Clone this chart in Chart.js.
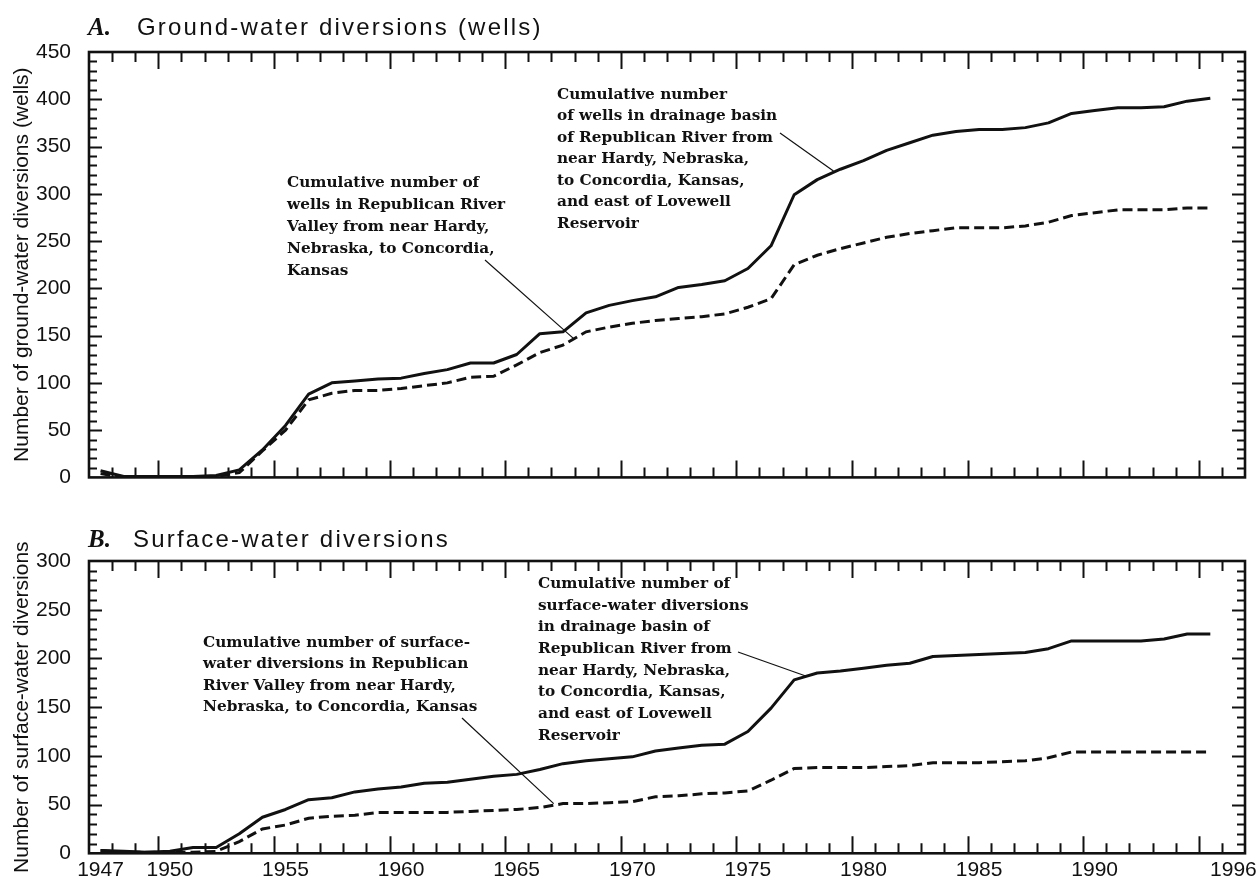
<!DOCTYPE html>
<html>
<head>
<meta charset="utf-8">
<script src="https://cdn.jsdelivr.net/npm/chart.js@4.4.1/dist/chart.umd.min.js"></script>
<style>
  html, body { margin: 0; padding: 0; background: #fff; }
  #wrap { position: relative; width: 1260px; height: 879px; overflow: hidden; background: #fff; }
  canvas { position: absolute; left: 0; }
</style>
</head>
<body>
<div id="wrap">
  <canvas id="panelA" width="1260" height="500" style="top:0"></canvas>
  <canvas id="panelB" width="1260" height="379" style="top:500px"></canvas>
</div>
<script>
// Years of record (each value is plotted at the middle of its year)
const years = [1947,1948,1949,1950,1951,1952,1953,1954,1955,1956,1957,1958,1959,1960,
  1961,1962,1963,1964,1965,1966,1967,1968,1969,1970,1971,1972,1973,1974,1975,1976,
  1977,1978,1979,1980,1981,1982,1983,1984,1985,1986,1987,1988,1989,1990,1991,1992,
  1993,1994,1995];

// A. Cumulative wells, drainage basin (solid) and river valley (dashed)
const wellsBasin = [7,1,1,1,1,2,8,29,55,88,100,102,104,105,110,114,121,121,130,152,
  154,174,182,187,191,201,204,208,221,245,299,315,326,335,346,354,362,366,368,368,
  370,375,385,388,391,391,392,398,401];
const wellsValley = [4,0,0,0,0,1,5,28,50,82,89,92,92,94,97,100,106,107,119,132,
  140,154,159,163,166,168,170,173,180,189,225,235,242,248,254,258,261,264,264,264,
  266,270,277,280,283,283,283,285,285];

// B. Cumulative surface-water diversions, drainage basin (solid) and river valley (dashed)
const surfaceBasin = [3,2,1,2,6,6,20,37,45,55,57,63,66,68,72,73,76,79,81,86,
  92,95,97,99,105,108,111,112,125,149,178,185,187,190,193,195,202,203,204,205,
  206,210,218,218,218,218,220,225,225];
const surfaceValley = [3,1,1,1,1,2,12,25,29,36,38,39,42,42,42,42,43,44,45,47,
  51,51,52,53,58,59,61,62,64,75,87,88,88,88,89,90,93,93,93,94,
  95,98,104,104,104,104,104,104,104];

// Axis labels
const xLabelYears = [1947,1950,1955,1960,1965,1970,1975,1980,1985,1990,1996];
const yTitleA = 'Number of ground-water diversions (wells)';
const yTitleB = 'Number of surface-water diversions';
const headingA = ['A.', 'Ground-water diversions (wells)'];
const headingB = ['B.', 'Surface-water diversions'];

// Callout text
const noteValleyWells = ['Cumulative number of', 'wells in Republican River',
  'Valley from near Hardy,', 'Nebraska, to Concordia,', 'Kansas'];
const noteBasinWells = ['Cumulative number', 'of wells in drainage basin',
  'of Republican River from', 'near Hardy, Nebraska,', 'to Concordia, Kansas,',
  'and east of Lovewell', 'Reservoir'];
const noteValleySurface = ['Cumulative number of surface-', 'water diversions in Republican',
  'River Valley from near Hardy,', 'Nebraska, to Concordia, Kansas'];
const noteBasinSurface = ['Cumulative number of', 'surface-water diversions',
  'in drainage basin of', 'Republican River from', 'near Hardy, Nebraska,',
  'to Concordia, Kansas,', 'and east of Lovewell', 'Reservoir'];

const INK = '#111';
const NOTE_FONT = 'bold 15.3px "DejaVu Serif"';
const SANS = '"Liberation Sans", Arial, sans-serif';

function toPoints(vals) {
  return vals.map((v, i) => ({ x: years[i] + 0.5, y: v }));
}

// Frame with inward tick marks on all four sides
const frameTicks = {
  id: 'frameTicks',
  afterDatasetsDraw(chart) {
    const { ctx, chartArea: a } = chart;
    const { x, y } = chart.scales;
    ctx.save();
    ctx.strokeStyle = INK;
    ctx.lineWidth = 2;
    ctx.beginPath();
    for (let yr = x.min + 1; yr < x.max; yr++) {
      const px = Math.round(x.getPixelForValue(yr)) + 0.5;
      const len = yr % 5 === 0 ? 17 : 10;
      ctx.moveTo(px, a.top); ctx.lineTo(px, a.top + len);
      ctx.moveTo(px, a.bottom); ctx.lineTo(px, a.bottom - len);
    }
    for (let v = y.min + 10; v < y.max; v += 10) {
      const py = Math.round(y.getPixelForValue(v)) + 0.5;
      const len = v % 50 === 0 ? 13 : 8;
      ctx.moveTo(a.left, py); ctx.lineTo(a.left + len, py);
      ctx.moveTo(a.right, py); ctx.lineTo(a.right - len, py);
    }
    ctx.stroke();
    ctx.lineWidth = 2.6;
    ctx.strokeRect(a.left, a.top, a.right - a.left, a.bottom - a.top);
    ctx.restore();
  }
};

// Heading and callouts with leader lines that end on the curves
function makeAnnotations(heading, headX, headY, notes) {
  return {
    id: 'annotations',
    afterDraw(chart) {
      const { ctx } = chart;
      const { x, y } = chart.scales;
      ctx.save();
      ctx.fillStyle = INK;
      ctx.textBaseline = 'alphabetic';
      ctx.textAlign = 'left';
      ctx.font = 'italic bold 25px "Liberation Serif"';
      ctx.fillText(heading[0], 88, headY);
      ctx.font = '24px ' + SANS;
      ctx.letterSpacing = '2.2px';
      ctx.fillText(heading[1], headX, headY);
      ctx.letterSpacing = '0px';

      ctx.font = NOTE_FONT;
      ctx.textBaseline = 'middle';
      notes.forEach(n => {
        n.lines.forEach((t, i) => ctx.fillText(t, n.x, n.y + i * n.lh));
        ctx.beginPath();
        ctx.strokeStyle = INK;
        ctx.lineWidth = 1.2;
        ctx.moveTo(n.from[0], n.from[1]);
        ctx.lineTo(x.getPixelForValue(n.to[0]), y.getPixelForValue(n.to[1]));
        ctx.stroke();
      });
      ctx.restore();
    }
  };
}

function panelConfig(opts) {
  return {
    type: 'line',
    data: {
      datasets: [
        { data: toPoints(opts.solid), borderColor: INK, borderWidth: 3, pointRadius: 0,
          tension: 0, fill: false, borderJoinStyle: 'round' },
        { data: toPoints(opts.dashed), borderColor: INK, borderWidth: 3, pointRadius: 0,
          tension: 0, fill: false, borderDash: [10, 5] }
      ]
    },
    options: {
      responsive: false,
      animation: false,
      devicePixelRatio: 1,
      events: [],
      layout: { padding: { left: 0, right: 15, top: opts.top, bottom: opts.bottom } },
      plugins: { legend: { display: false }, tooltip: { enabled: false }, title: { display: false } },
      scales: {
        x: {
          type: 'linear',
          min: 1947,
          max: 1997,
          display: opts.showX,
          grid: { display: false },
          border: { display: false },
          afterBuildTicks: s => { s.ticks = xLabelYears.map(v => ({ value: v })); },
          afterFit: s => { if (opts.showX) s.height = opts.xHeight; },
          ticks: {
            autoSkip: false,
            maxRotation: 0,
            padding: -4,
            labelOffset: 11.5,
            color: INK,
            font: { family: SANS, size: 21 },
            callback: v => String(v)
          }
        },
        y: {
          min: 0,
          max: opts.yMax,
          grid: { display: false },
          border: { display: false },
          afterFit: s => { s.width = 89; },
          ticks: {
            stepSize: 50,
            padding: 10,
            color: INK,
            font: { family: SANS, size: 21 }
          },
          title: {
            display: true,
            text: opts.yTitle,
            color: INK,
            padding: { top: 10, bottom: 0 },
            font: { family: SANS, size: 21 }
          }
        }
      }
    },
    plugins: [frameTicks, makeAnnotations(opts.heading, opts.headX, opts.headY, opts.notes)]
  };
}

new Chart(document.getElementById('panelA'), panelConfig({
  solid: wellsBasin,
  dashed: wellsValley,
  yMax: 450,
  yTitle: yTitleA,
  heading: headingA,
  headX: 137,
  headY: 35,
  top: 52,
  bottom: 11.5,
  showX: false,
  notes: [
    { lines: noteValleyWells, x: 287, y: 183, lh: 22, from: [485, 260], to: [1968.0, 146] },
    { lines: noteBasinWells, x: 557, y: 95, lh: 21.5, from: [780, 133], to: [1979.2, 324] }
  ]
}));

new Chart(document.getElementById('panelB'), panelConfig({
  solid: surfaceBasin,
  dashed: surfaceValley,
  yMax: 300,
  yTitle: yTitleB,
  heading: headingB,
  headX: 133,
  headY: 47,
  top: 61,
  bottom: 0,
  showX: true,
  xHeight: 25.7,
  notes: [
    { lines: noteValleySurface, x: 203, y: 143, lh: 21.5, from: [462, 218], to: [1967.1, 51] },
    { lines: noteBasinSurface, x: 538, y: 84, lh: 21.7, from: [738, 152], to: [1978.0, 182] }
  ]
}));
</script>
</body>
</html>
